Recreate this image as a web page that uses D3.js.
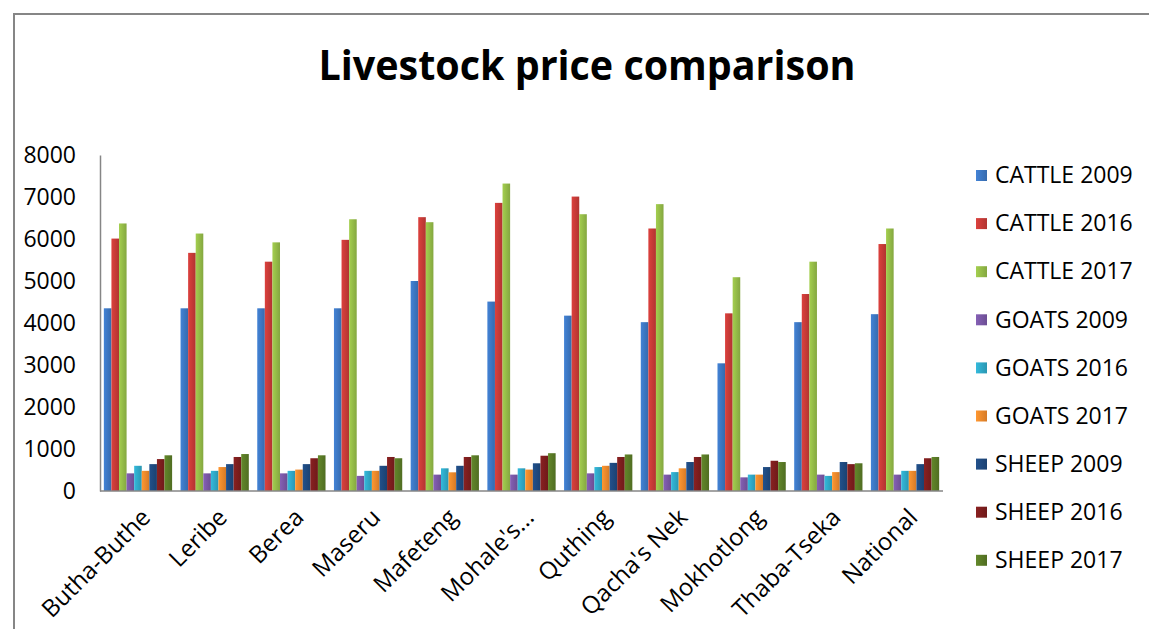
<!DOCTYPE html>
<html lang="en">
<head>
	<meta charset="UTF-8">
	<title>Livestock price comparison</title>
	<script src="https://cdn.jsdelivr.net/npm/d3@7/dist/d3.min.js"></script>
	<style>
		body { margin: 0; background: #fff; }
		text { font-family: "Open Sans", sans-serif; fill: #000; }
	</style>
</head>
<body>
	<div id="container"></div>
	<script>
		var width = 1149;
		var height = 629;

		// data
		var districts = ["Butha-Buthe", "Leribe", "Berea", "Maseru", "Mafeteng", "Mohale's...",
			"Quthing", "Qacha's Nek", "Mokhotlong", "Thaba-Tseka", "National"];
		var seriesNames = ["CATTLE 2009", "CATTLE 2016", "CATTLE 2017", "GOATS 2009", "GOATS 2016",
			"GOATS 2017", "SHEEP 2009", "SHEEP 2016", "SHEEP 2017"];
		var cattle2009 = [4350, 4350, 4350, 4350, 5000, 4510, 4175, 4020, 3040, 4020, 4210];
		var cattle2016 = [6010, 5670, 5460, 5980, 6520, 6860, 7010, 6250, 4230, 4690, 5880];
		var cattle2017 = [6370, 6130, 5920, 6470, 6400, 7320, 6590, 6830, 5090, 5460, 6250];
		var goats2009 = [420, 420, 420, 360, 390, 390, 420, 390, 325, 390, 390];
		var goats2016 = [600, 480, 480, 480, 540, 540, 570, 450, 390, 360, 480];
		var goats2017 = [480, 570, 510, 480, 445, 510, 600, 540, 390, 450, 480];
		var sheep2009 = [640, 640, 640, 600, 600, 660, 670, 690, 570, 690, 640];
		var sheep2016 = [760, 810, 780, 810, 810, 840, 810, 810, 720, 640, 780];
		var sheep2017 = [850, 880, 850, 780, 850, 900, 870, 870, 690, 660, 810];
		var yTicks = [0, 1000, 2000, 3000, 4000, 5000, 6000, 7000, 8000];

		var seriesValues = [cattle2009, cattle2016, cattle2017, goats2009, goats2016,
			goats2017, sheep2009, sheep2016, sheep2017];
		var colors = ["#3d78c4", "#c93b38", "#96bd48", "#7a58a6", "#30aac9",
			"#f18a2c", "#1f4a80", "#7e1e1e", "#5b7c26"];

		var svg = d3.select("#container").append("svg")
				.attr("width", width)
				.attr("height", height);

		// gradients, lighter on the left like the original
		var defs = svg.append("defs");
		colors.forEach((c, i) => {
			var g = defs.append("linearGradient").attr("id", "grad" + i)
					.attr("x1", 0).attr("x2", 1).attr("y1", 0).attr("y2", 0);
			g.append("stop").attr("offset", "0%").attr("stop-color", d3.color(c).brighter(0.25));
			g.append("stop").attr("offset", "100%").attr("stop-color", d3.color(c).darker(0.35));
		});

		// chart frame
		svg.append("path")
				.attr("d", "M14," + height + "V14H" + width)
				.attr("fill", "none")
				.attr("stroke", "#868686")
				.attr("stroke-width", 2);

		svg.append("text")
				.attr("x", 587)
				.attr("y", 80)
				.attr("text-anchor", "middle")
				.attr("font-size", 42)
				.attr("font-weight", "bold")
				.attr("textLength", 537)
				.attr("lengthAdjust", "spacingAndGlyphs")
				.text("Livestock price comparison");

		var x0 = d3.scaleBand()
				.domain(districts)
				.range([100, 943])
				.paddingInner(0.11)
				.paddingOuter(0.05);
		var x1 = d3.scaleBand()
				.domain(d3.range(seriesNames.length))
				.range([0, x0.bandwidth()]);
		var y = d3.scaleLinear()
				.domain([0, 8000])
				.range([491, 155]);

		var groups = svg.selectAll(".group").data(districts)
			.enter().append("g")
				.attr("class", "group")
				.attr("transform", d => "translate(" + x0(d) + ",0)");

		groups.selectAll("rect")
				.data((d, i) => seriesValues.map((s, k) => ({k: k, v: s[i]})))
			.enter().append("rect")
				.attr("x", d => x1(d.k))
				.attr("y", d => y(d.v))
				.attr("width", x1.bandwidth())
				.attr("height", d => y(0) - y(d.v))
				.attr("fill", d => "url(#grad" + d.k + ")");

		// y axis
		var yAxis = svg.append("g")
				.attr("transform", "translate(100,0)")
				.call(d3.axisLeft(y).tickValues(yTicks).tickSize(0).tickPadding(24).tickFormat(d3.format("d")));
		yAxis.select(".domain").attr("stroke", "#868686").attr("stroke-width", 1.5);
		yAxis.selectAll("text").attr("font-size", 23).attr("font-family", "Open Sans").attr("fill", "#000");

		// x axis
		svg.append("line")
				.attr("x1", 100).attr("x2", 943)
				.attr("y1", y(0)).attr("y2", y(0))
				.attr("stroke", "#868686")
				.attr("stroke-width", 1.5);

		svg.selectAll(".xlabel").data(districts)
			.enter().append("text")
				.attr("class", "xlabel")
				.attr("transform", d => "translate(" + (x0(d) + x0.bandwidth() / 2 + 2) + ",507) rotate(-45)")
				.attr("text-anchor", "end")
				.attr("dy", "0.7em")
				.attr("font-size", 24)
				.text(d => d);

		// legend
		var legend = svg.selectAll(".legend").data(seriesNames)
			.enter().append("g")
				.attr("class", "legend")
				.attr("transform", (d, i) => "translate(976," + (175 + i * 48.1) + ")");
		legend.append("rect")
				.attr("x", 0).attr("y", -5)
				.attr("width", 11).attr("height", 11)
				.attr("fill", (d, i) => "url(#grad" + i + ")");
		legend.append("text")
				.attr("x", 19)
				.attr("y", 0)
				.attr("dy", "0.36em")
				.attr("font-size", 23)
				.text(d => d);
	</script>
</body>
</html>
